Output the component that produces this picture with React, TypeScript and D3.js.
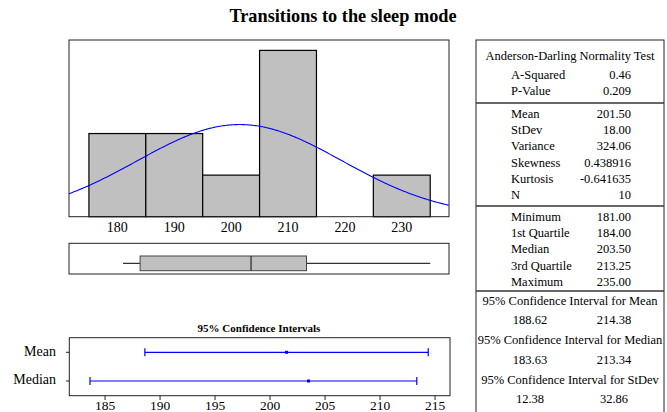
import React, { useEffect, useRef } from "react";
import * as d3 from "d3";

// histogram data
const binEdges = [175, 185, 195, 205, 215, 225, 235];
const binCounts = [2, 2, 1, 4, 0, 1];
const histTicks = [180, 190, 200, 210, 220, 230];

// summary stats
const sampleMean = 201.5;
const sampleSd = 18.0;
const sampleN = 10;
const fiveNum = [181.0, 184.0, 203.5, 213.25, 235.0]; // min q1 median q3 max

// confidence intervals
const ciLabels = ["Mean", "Median"];
const ciCenters = [201.5, 203.5];
const ciLows = [188.62, 183.63];
const ciHighs = [214.38, 213.34];
const ciTicks = [185, 190, 195, 200, 205, 210, 215];

// table text
const adLabels = ["A-Squared", "P-Value"];
const adValues = ["0.46", "0.209"];
const momentLabels = ["Mean", "StDev", "Variance", "Skewness", "Kurtosis", "N"];
const momentValues = ["201.50", "18.00", "324.06", "0.438916", "-0.641635", "10"];
const quantLabels = ["Minimum", "1st Quartile", "Median", "3rd Quartile", "Maximum"];
const quantValues = ["181.00", "184.00", "203.50", "213.25", "235.00"];
const ciTableTitles = [
  "95% Confidence Interval for Mean",
  "95% Confidence Interval for Median",
  "95% Confidence Interval for StDev",
];
const ciTableLows = ["188.62", "183.63", "12.38"];
const ciTableHighs = ["214.38", "213.34", "32.86"];

const W = 667;
const H = 412;
const FONT = "'Liberation Serif', 'Times New Roman', serif";

export default function App() {
  const svgRef = useRef<SVGSVGElement>(null);

  useEffect(() => {
    const svg = d3.select(svgRef.current);
    svg.selectAll("*").remove();
    svg.attr("font-family", FONT);

    // title
    svg.append("text")
      .attr("x", 343).attr("y", 18)
      .attr("text-anchor", "middle").attr("dominant-baseline", "middle")
      .attr("font-size", 18.3).attr("font-weight", "bold")
      .text("Transitions to the sleep mode");

    // ---------- histogram ----------
    const hx = d3.scaleLinear().domain([171.5, 238.3]).range([69, 449]);
    const hy = d3.scaleLinear().domain([0, 4.25]).range([216.7, 40]);

    const hist = svg.append("g");
    hist.selectAll("rect.bar")
      .data(binCounts)
      .join("rect")
      .attr("class", "bar")
      .attr("x", (d, i) => hx(binEdges[i]))
      .attr("width", (d, i) => hx(binEdges[i + 1]) - hx(binEdges[i]))
      .attr("y", d => hy(d))
      .attr("height", d => hy(0) - hy(d))
      .attr("fill", "#c0c0c0")
      .attr("stroke", "#000")
      .attr("stroke-width", d => (d === 0 ? 2.2 : 1.2));

    // fitted normal, scaled to counts
    const binW = binEdges[1] - binEdges[0];
    const normal = (x: number) =>
      (sampleN * binW) / (sampleSd * Math.sqrt(2 * Math.PI)) *
      Math.exp(-0.5 * ((x - sampleMean) / sampleSd) ** 2);
    const xs = d3.range(171.5, 238.31, 0.25);
    const line = d3.line<number>().x(d => hx(d)).y(d => hy(normal(d)));
    hist.append("path")
      .datum(xs)
      .attr("d", line)
      .attr("fill", "none")
      .attr("stroke", "#0000ff")
      .attr("stroke-width", 1.1);

    hist.append("rect")
      .attr("x", 69).attr("y", 40).attr("width", 380).attr("height", 176.7)
      .attr("fill", "none").attr("stroke", "#222").attr("stroke-width", 1);

    hist.selectAll("text.tick")
      .data(histTicks)
      .join("text")
      .attr("class", "tick")
      .attr("x", d => hx(d)).attr("y", 229)
      .attr("text-anchor", "middle").attr("dominant-baseline", "middle")
      .attr("font-size", 14)
      .text(d => d);

    // ---------- boxplot ----------
    const box = svg.append("g");
    const by = 263.3;
    box.append("rect")
      .attr("x", 69).attr("y", 243.3).attr("width", 380).attr("height", 30.7)
      .attr("fill", "none").attr("stroke", "#222");
    box.append("line")
      .attr("x1", hx(fiveNum[0])).attr("x2", hx(fiveNum[1]))
      .attr("y1", by).attr("y2", by).attr("stroke", "#000");
    box.append("line")
      .attr("x1", hx(fiveNum[3])).attr("x2", hx(fiveNum[4]))
      .attr("y1", by).attr("y2", by).attr("stroke", "#000");
    box.append("rect")
      .attr("x", hx(fiveNum[1])).attr("y", 256)
      .attr("width", hx(fiveNum[3]) - hx(fiveNum[1])).attr("height", 14.7)
      .attr("fill", "#c0c0c0").attr("stroke", "#444");
    box.append("line")
      .attr("x1", hx(fiveNum[2])).attr("x2", hx(fiveNum[2]))
      .attr("y1", 256).attr("y2", 270.7).attr("stroke", "#333").attr("stroke-width", 1.3);

    // ---------- confidence intervals ----------
    const cx = d3.scaleLinear().domain([181.75, 216.36]).range([69.3, 450]);
    const cy = d3.scalePoint<string>().domain(ciLabels).range([352.3, 381]);
    const ci = svg.append("g");

    ci.append("text")
      .attr("x", 259).attr("y", 329)
      .attr("text-anchor", "middle").attr("dominant-baseline", "middle")
      .attr("font-size", 11).attr("font-weight", "bold")
      .text("95% Confidence Intervals");

    ci.append("rect")
      .attr("x", 69.3).attr("y", 337.7).attr("width", 380.7).attr("height", 58)
      .attr("fill", "none").attr("stroke", "#222");

    ciLabels.forEach((lab, i) => {
      const y = cy(lab)!;
      ci.append("line")
        .attr("x1", cx(ciLows[i])).attr("x2", cx(ciHighs[i]))
        .attr("y1", y).attr("y2", y)
        .attr("stroke", "#0000ff").attr("stroke-width", 1.2);
      [ciLows[i], ciHighs[i]].forEach(v => {
        ci.append("line")
          .attr("x1", cx(v)).attr("x2", cx(v))
          .attr("y1", y - 4).attr("y2", y + 4)
          .attr("stroke", "#0000ff").attr("stroke-width", 1.2);
      });
      ci.append("rect")
        .attr("x", cx(ciCenters[i]) - 1.5).attr("y", y - 1.5)
        .attr("width", 3).attr("height", 3).attr("fill", "#0000ff");
      ci.append("line")
        .attr("x1", 66).attr("x2", 69.3).attr("y1", y).attr("y2", y)
        .attr("stroke", "#222");
      ci.append("text")
        .attr("x", 56).attr("y", y)
        .attr("text-anchor", "end").attr("dominant-baseline", "middle")
        .attr("font-size", 14)
        .text(lab);
    });

    ciTicks.forEach(t => {
      ci.append("line")
        .attr("x1", cx(t)).attr("x2", cx(t))
        .attr("y1", 395.7).attr("y2", 400)
        .attr("stroke", "#222");
      ci.append("text")
        .attr("x", cx(t)).attr("y", 409.5)
        .attr("text-anchor", "middle")
        .attr("font-size", 13.5)
        .text(t);
    });

    // ---------- stats table ----------
    const tb = svg.append("g").attr("font-size", 12.5);
    tb.append("rect")
      .attr("x", 476).attr("y", 40).attr("width", 188).attr("height", 380)
      .attr("fill", "none").attr("stroke", "#222");
    [103, 206, 291].forEach(y => {
      tb.append("line")
        .attr("x1", 476).attr("x2", 664).attr("y1", y).attr("y2", y)
        .attr("stroke", "#333").attr("stroke-width", 1.3);
    });

    tb.append("text")
      .attr("x", 570).attr("y", 57)
      .attr("text-anchor", "middle").attr("dominant-baseline", "middle")
      .text("Anderson-Darling Normality Test");

    const rows = (labels: string[], values: string[], y0: number, step: number) => {
      labels.forEach((lab, i) => {
        const y = y0 + i * step;
        tb.append("text").attr("x", 511).attr("y", y)
          .attr("dominant-baseline", "middle").text(lab);
        tb.append("text").attr("x", 631).attr("y", y)
          .attr("text-anchor", "end").attr("dominant-baseline", "middle")
          .text(values[i]);
      });
    };
    rows(adLabels, adValues, 76, 16.3);
    rows(momentLabels, momentValues, 115, 16.3);
    rows(quantLabels, quantValues, 218, 16.3);

    ciTableTitles.forEach((t, i) => {
      const y = 302 + i * 39.5;
      tb.append("text").attr("x", 570).attr("y", y)
        .attr("text-anchor", "middle").attr("dominant-baseline", "middle")
        .text(t);
      tb.append("text").attr("x", 530).attr("y", y + 19.5)
        .attr("text-anchor", "middle").attr("dominant-baseline", "middle")
        .text(ciTableLows[i]);
      tb.append("text").attr("x", 614).attr("y", y + 19.5)
        .attr("text-anchor", "middle").attr("dominant-baseline", "middle")
        .text(ciTableHighs[i]);
    });
  }, []);

  return (
    <svg
      ref={svgRef}
      width={W}
      height={H}
      style={{ position: "absolute", left: 0, top: 0, background: "#fff" }}
    />
  );
}
